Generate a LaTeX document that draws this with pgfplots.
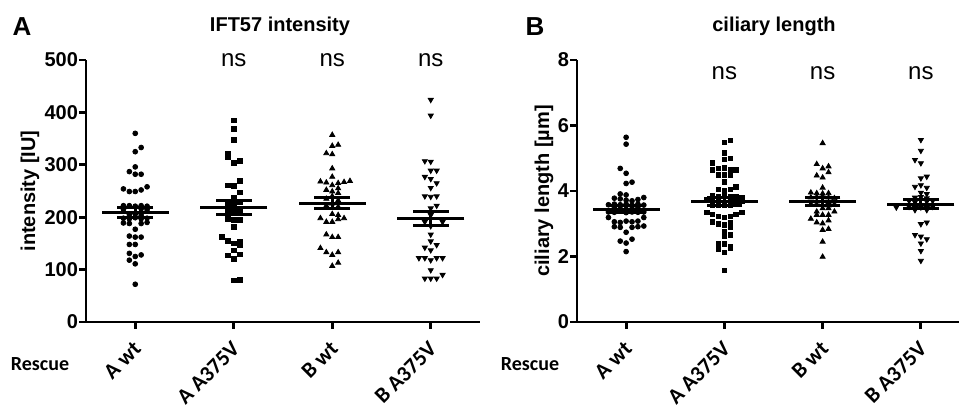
\documentclass[border=0pt]{standalone}
\usepackage{fontspec}
\setmainfont{Liberation Sans}
\newfontfamily\calib{Carlito}
\usepackage{pgfplots}
\usepackage{pgfplotstable}
\pgfplotsset{compat=1.18}

% IFT57 intensity, one table per rescue line (x = category + jitter)
\pgfplotstableread{
x y
0 360
0 325
0.06 333
0 296
-0.06 287
0 282
0.06 282
-0.12 254
-0.06 249
0 249
0.06 252
0.12 258
-0.12 222
-0.06 222
0 221
0.06 222
0.12 221
-0.12 215
0.06 216
0.12 214
-0.06 205
0 206
0.06 204
-0.12 198
-0.06 197
0 199
0.06 197
0.12 198
-0.12 189
-0.06 188
0.06 188
0.12 190
0 177
-0.06 164
0 162
0.06 162
-0.06 148
0 148
-0.06 131
0 125
0.06 128
-0.06 118
0 111
0 72
}\iAwt
\pgfplotstableread{
x y
1 385
1 369
1 347
0.94 322
0.94 315
1 304
1.06 307
0.94 261
1 260
1.06 269
1.06 247
1 238
0.94 226
1.06 228
1 223
1 214
0.94 210
1.06 212
0.94 197
1 195
1.06 195
1 182
0.88 162
0.94 155
1 150
1.06 153
1.06 147
1 137
0.94 127
1 120
1.06 129
1 79
1.06 80
}\iAmut
\pgfplotstableread{
x y
2 357
2 336
2.06 338
1.94 322
2 320
2 293
2 277
1.88 268
1.94 266
2 261
2.06 265
2.12 267
2.18 269
1.94 252
2 249
2.06 255
2.06 246
1.94 235
2 240
2.06 232
1.94 222
2 226
2.06 220
2 206
2.06 204
1.88 198
1.94 191
2 191
2.06 196
2.12 198
1.94 167
2 162
2.06 162
1.88 141
1.94 133
2 128
2.06 133
2 107
2.06 113
}\iBwt
\pgfplotstableread{
x y
3 424
3 394
2.94 307
3 306
3 289
3.06 289
2.94 277
3 273
3.06 265
3 256
2.94 240
3 239
3.06 240
3.06 222
3 217
3 204
2.94 191
3.12 191
3 183
3 167
3 154
3.06 147
2.94 142
3 137
2.88 122
2.94 122
3 118
3.06 122
3.12 122
3 99
2.94 83
3 83
3.06 83
3.12 90
}\iBmut
% mean, SEM low, SEM high
\pgfplotstableread{
x m lo hi
0 209 199 219
1 219 205 232
2 227 216 238
3 197 184 211
}\iMean
\pgfplotstableread{
x y
0 199
0 219
0 nan
1 205
1 232
1 nan
2 216
2 238
2 nan
3 184
3 211
}\iSem

% ciliary length
\pgfplotstableread{
x y
0 5.64
0 5.43
-0.06 4.69
0 4.54
0 4.23
0.06 4.27
-0.06 3.91
0 3.88
0.18 3.80
-0.12 3.78
-0.06 3.76
0 3.72
0.06 3.70
0.12 3.74
-0.18 3.58
-0.12 3.60
-0.06 3.58
0 3.60
0.06 3.57
0.12 3.60
0.18 3.57
-0.12 3.48
-0.06 3.46
0 3.44
0.06 3.46
0.12 3.48
-0.18 3.36
-0.12 3.35
0 3.34
0.06 3.36
0.12 3.35
0.18 3.36
-0.18 3.19
-0.12 3.06
-0.06 3.04
0 3.08
0.06 3.06
0.12 3.08
0.18 3.19
-0.12 2.91
-0.06 2.89
0.06 2.89
0.12 2.91
0.18 2.93
0 2.74
-0.06 2.47
0 2.41
0.06 2.53
0 2.15
}\cAwt
\pgfplotstableread{
x y
1 5.49
1.06 5.54
1 5.17
1 4.97
1.06 4.99
0.88 4.86
0.94 4.69
1 4.71
1.06 4.64
1.12 4.64
0.88 4.64
0.94 4.49
1 4.49
1.06 4.49
1 4.28
0.94 4.05
1 4.00
1.06 4.05
1.12 4.13
0.88 3.85
0.94 3.82
1 3.84
1.06 3.82
1.12 3.84
1.18 3.80
0.82 3.72
0.88 3.70
0.94 3.70
1.06 3.70
1.12 3.72
1.18 3.68
0.88 3.58
0.94 3.56
1 3.58
1.06 3.56
1.12 3.60
0.82 3.35
0.88 3.29
0.94 3.22
1 3.19
1.06 3.22
1.12 3.29
1.18 3.35
0.88 3.06
0.94 2.99
1 2.96
1.06 3.04
1.06 2.91
1 2.76
1 2.63
1.06 2.66
0.94 2.40
1 2.38
1.06 2.30
0.94 2.23
1 2.12
1.06 2.27
1 1.57
}\cAmut
\pgfplotstableread{
x y
2 5.46
1.94 4.82
2 4.69
2.06 4.75
1.94 4.47
2 4.41
2.06 4.57
2 4.10
1.88 3.95
1.94 3.93
2 3.92
2.06 3.93
1.88 3.80
1.94 3.82
2 3.84
2.06 3.80
2.12 3.78
1.94 3.68
2 3.70
2.06 3.66
1.88 3.60
1.94 3.58
2.06 3.56
2.12 3.60
1.94 3.37
2 3.47
2.06 3.47
2.12 3.37
1.94 3.27
2 3.27
2.06 3.27
1.88 3.15
1.94 3.04
2 3.01
2.06 3.10
2 2.81
2.06 2.84
2 2.45
2 1.99
}\cBwt
\pgfplotstableread{
x y
3 5.56
3 5.23
2.94 4.95
3 4.85
3 4.39
3.06 4.44
2.94 4.13
3 4.18
3.06 4.10
3 3.95
3.06 3.91
2.94 3.80
3 3.82
3.06 3.78
2.88 3.70
2.94 3.66
3.06 3.68
3.12 3.70
2.75 3.50
2.88 3.52
2.94 3.48
3 3.50
3.06 3.48
3.12 3.52
2.94 3.42
3.06 3.42
3 2.99
3.06 3.04
2.94 2.66
3 2.61
3.06 2.53
3 2.40
3 2.17
3 1.87
}\cBmut
\pgfplotstableread{
x m lo hi
0 3.45 3.35 3.55
1 3.67 3.55 3.80
2 3.67 3.55 3.80
3 3.59 3.47 3.73
}\cMean
\pgfplotstableread{
x y
0 3.35
0 3.55
0 nan
1 3.55
1 3.80
1 nan
2 3.55
2 3.80
2 nan
3 3.47
3 3.73
}\cSem

\pgfplotsset{
  dotplot/.style={
    scale only axis, height=131pt,
    axis x line=bottom, axis y line=left,
    axis line style={-, line width=1.4pt},
    tick align=outside, major tick length=3.5pt,
    tick style={line width=1.4pt, black},
    xtick={0,1,2,3},
    xticklabels={A wt, A A375V, B wt, B A375V},
    xticklabel style={font=\calib\bfseries\fontsize{11}{13}\selectfont,
      rotate=45, anchor=east, xshift=-1.5pt, yshift=-6.5pt},
    yticklabel style={font=\bfseries\fontsize{10}{12}\selectfont, xshift=3pt},
    /pgf/number format/assume math mode=true,
    xmin=-0.5, xmax=3.5, ymin=0, clip=false,
    unbounded coords=jump,
  },
  pts/.style={only marks, black, mark size=1.2pt},
  meanline/.style={only marks, black, mark=-, mark size=16.8pt,
    mark options={line width=1.5pt}},
  semcap/.style={only marks, black, mark=-, mark size=8.9pt,
    mark options={line width=1.5pt}},
  semline/.style={black, no marks, line width=1.5pt},
}
\tikzset{nslab/.style={font=\fontsize{12}{14}\selectfont}}

\begin{document}
\begin{tikzpicture}
\path[use as bounding box] (0,0) rectangle (479.5pt,202.5pt);

\begin{axis}[dotplot, at={(43pt,41.5pt)}, anchor=south west, width=197pt,
  ymax=500, ytick={0,100,...,500}]
\addplot[pts, mark=*] table[x=x, y=y] {\iAwt};
\addplot[pts, mark=square*, mark size=1.15pt] table[x=x, y=y] {\iAmut};
\addplot[pts, mark=triangle*, mark size=1.45pt] table[x=x, y=y] {\iBwt};
\addplot[pts, mark=triangle*, mark size=1.45pt, mark options={rotate=180}] table[x=x, y=y] {\iBmut};
\addplot[semline] table[x=x, y=y] {\iSem};
\addplot[semcap] table[x=x, y=lo] {\iMean};
\addplot[semcap] table[x=x, y=hi] {\iMean};
\addplot[meanline] table[x=x, y=m] {\iMean};
\node[nslab] at (axis cs:1,500) {ns};
\node[nslab] at (axis cs:2,500) {ns};
\node[nslab] at (axis cs:3,500) {ns};
\end{axis}

\begin{axis}[dotplot, at={(288.5pt,41.5pt)}, anchor=south west, width=196.5pt,
  ymax=8, ytick={0,2,4,6,8}]
\addplot[pts, mark=*] table[x=x, y=y] {\cAwt};
\addplot[pts, mark=square*, mark size=1.15pt] table[x=x, y=y] {\cAmut};
\addplot[pts, mark=triangle*, mark size=1.45pt] table[x=x, y=y] {\cBwt};
\addplot[pts, mark=triangle*, mark size=1.45pt, mark options={rotate=180}] table[x=x, y=y] {\cBmut};
\addplot[semline] table[x=x, y=y] {\cSem};
\addplot[semcap] table[x=x, y=lo] {\cMean};
\addplot[semcap] table[x=x, y=hi] {\cMean};
\addplot[meanline] table[x=x, y=m] {\cMean};
\node[nslab] at (axis cs:1,7.6) {ns};
\node[nslab] at (axis cs:2,7.6) {ns};
\node[nslab] at (axis cs:3,7.6) {ns};
\end{axis}

\node[font=\bfseries\fontsize{13}{15}\selectfont] at (11pt,189pt) {A};
\node[font=\bfseries\fontsize{13}{15}\selectfont] at (267.5pt,189pt) {B};
\node[font=\bfseries\fontsize{10}{12}\selectfont] at (140pt,189.5pt) {IFT57 intensity};
\node[font=\bfseries\fontsize{10}{12}\selectfont] at (387pt,189.5pt) {ciliary length};
\node[font=\bfseries\fontsize{10}{12}\selectfont, rotate=90] at (15pt,107pt) {intensity [IU]};
\node[font=\bfseries\fontsize{10}{12}\selectfont, rotate=90] at (272pt,107pt) {ciliary length [µm]};
\node[font=\calib\bfseries\fontsize{10}{12}\selectfont] at (20pt,20.5pt) {Rescue};
\node[font=\calib\bfseries\fontsize{10}{12}\selectfont] at (265pt,20.5pt) {Rescue};
\end{tikzpicture}
\end{document}
